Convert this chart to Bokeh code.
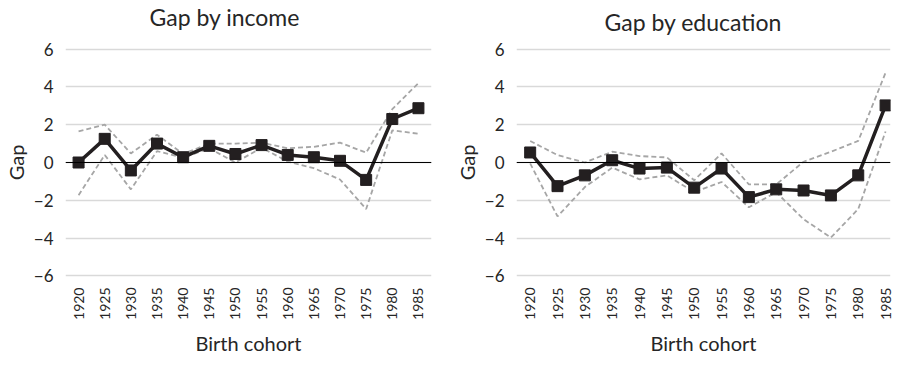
from bokeh.plotting import figure
from bokeh.layouts import row
from bokeh.models import Range1d, FixedTicker, Span, Title
from bokeh.embed import file_html
from bokeh.resources import INLINE

cohorts = [1920, 1925, 1930, 1935, 1940, 1945, 1950, 1955, 1960, 1965, 1970, 1975, 1980, 1985]

income_gap = [0.0, 1.25, -0.42, 1.0, 0.28, 0.88, 0.45, 0.92, 0.4, 0.28, 0.09, -0.92, 2.3, 2.87]
income_upper = [1.65, 2.0, 0.48, 1.47, 0.45, 1.0, 1.0, 1.05, 0.75, 0.83, 1.05, 0.52, 2.82, 4.2]
income_lower = [-1.73, 0.4, -1.42, 0.6, 0.25, 0.75, 0.0, 0.78, 0.05, -0.3, -0.9, -2.46, 1.7, 1.52]

edu_gap = [0.53, -1.25, -0.68, 0.12, -0.32, -0.27, -1.33, -0.32, -1.83, -1.42, -1.48, -1.74, -0.68, 3.02]
edu_upper = [1.14, 0.39, 0.0, 0.57, 0.34, 0.27, -0.94, 0.48, -1.16, -1.16, 0.04, 0.57, 1.14, 4.75]
edu_lower = [-0.05, -2.85, -1.3, -0.27, -0.89, -0.68, -1.57, -1.03, -2.37, -1.57, -3.0, -3.97, -2.46, 1.64]

y_ticks = [-6, -4, -2, 0, 2, 4, 6]
y_tick_labels = {str(t): ("\u2212" + str(-t)) if t < 0 else str(t) for t in y_ticks}

FONT = "Lato"
TEXT = "#262626"


def make_panel(title, gap, upper, lower, frame_w, frame_h, border_left, border_right,
               border_top, border_bottom, x_end, title_offset, title_standoff, gap_standoff):
    p = figure(frame_width=frame_w, frame_height=frame_h,
               output_backend="svg", toolbar_location=None,
               x_range=Range1d(1917.5, x_end), y_range=Range1d(-6.08, 6.08),
               min_border_left=border_left, min_border_right=border_right,
               min_border_top=border_top, min_border_bottom=border_bottom)
    p.outline_line_color = None
    p.background_fill_color = "white"
    p.border_fill_color = "white"

    # thin spacer nearest the frame, then the real title above it
    p.add_layout(Title(text=" ", text_font_size="1px", standoff=gap_standoff), "above")
    p.add_layout(Title(text=title, align="left", offset=title_offset, standoff=title_standoff,
                       text_font=FONT, text_font_size="23px", text_font_style="normal",
                       text_color=TEXT), "above")

    p.xgrid.grid_line_color = None
    p.ygrid.grid_line_color = "#d9d9d9"
    p.ygrid.grid_line_width = 1.3
    p.ygrid.ticker = FixedTicker(ticks=y_ticks)

    p.yaxis.ticker = FixedTicker(ticks=y_ticks)
    p.yaxis.major_label_overrides = y_tick_labels
    p.yaxis.axis_label = "Gap"
    p.xaxis.ticker = FixedTicker(ticks=cohorts)
    p.xaxis.major_label_orientation = 1.5707963
    p.xaxis.axis_label = "Birth cohort"

    for ax in (p.xaxis, p.yaxis):
        ax.axis_line_color = None
        ax.major_tick_line_color = None
        ax.minor_tick_line_color = None
        ax.major_tick_out = 0
        ax.major_tick_in = 0
        ax.minor_tick_out = 0
        ax.minor_tick_in = 0
        ax.major_label_text_font = FONT
        ax.major_label_text_color = TEXT
        ax.axis_label_text_font = FONT
        ax.axis_label_text_font_size = "20px"
        ax.axis_label_text_font_style = "normal"
        ax.axis_label_text_color = TEXT
    p.yaxis.major_label_text_font_size = "17px"
    p.xaxis.major_label_text_font_size = "14px"
    p.yaxis.major_label_standoff = 12
    p.yaxis.axis_label_standoff = 3
    p.xaxis.major_label_standoff = 10
    p.xaxis.axis_label_standoff = 8

    p.add_layout(Span(location=0, dimension="width", line_color="black", line_width=1.2))

    p.line(cohorts, upper, line_color="#a6a6a6", line_width=1.8, line_dash="5 3")
    p.line(cohorts, lower, line_color="#a6a6a6", line_width=1.8, line_dash="5 3")
    p.line(cohorts, gap, line_color="#231f20", line_width=3.5)
    p.scatter(cohorts, gap, marker="square", size=11, fill_color="#231f20", line_color="#231f20")
    return p


left = make_panel("Gap by income", income_gap, income_upper, income_lower,
                  frame_w=366, frame_h=230, border_left=60, border_right=18,
                  border_top=47, border_bottom=80, x_end=1987.5,
                  title_offset=84, title_standoff=0, gap_standoff=14)
right = make_panel("Gap by education", edu_gap, edu_upper, edu_lower,
                   frame_w=374, frame_h=230, border_left=67, border_right=3,
                   border_top=47, border_bottom=80, x_end=1985.9,
                   title_offset=88, title_standoff=10, gap_standoff=4)

layout = row(left, right, spacing=0)
open("out.html", "w").write(file_html(layout, INLINE))
